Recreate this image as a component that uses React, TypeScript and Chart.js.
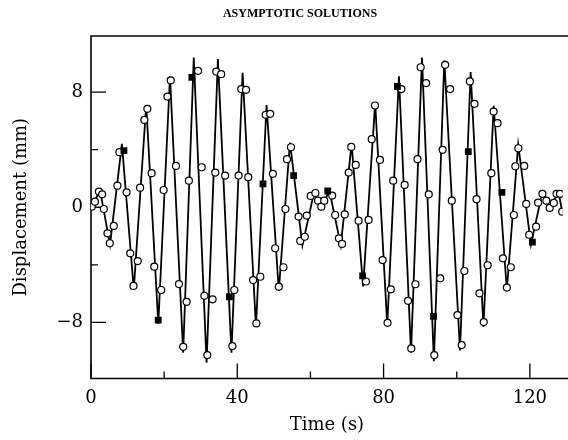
import { useEffect, useRef } from "react";
import { Chart, registerables } from "chart.js";

Chart.register(...registerables);

// Exact solution: vertices of the drawn curve (peaks and troughs)
const lineT = [0, 2.5, 5.2, 8.45, 11.7, 15.1, 18.4, 21.6, 25.2, 28.1, 31.6, 34.7, 38.4, 41.45, 45.1, 48.0, 51.35, 54.4, 57.8, 61.0, 63.0, 65.2, 68.3, 71.25, 74.4, 77.7, 81.0, 84.2, 87.5, 90.5, 93.75, 96.6, 100.9, 103.8, 107.3, 110.1, 113.7, 116.8, 120.3, 123.4, 125.4, 127.8, 129];
const lineY = [0, 1.15, -2.6, 4.4, -5.7, 7.1, -8.1, 9.1, -10.1, 10.4, -10.8, 10.3, -10.1, 9.35, -8.3, 7.1, -5.8, 4.5, -2.65, 1.05, 0.0, 1.15, -2.65, 4.4, -5.5, 7.25, -8.2, 9.1, -10.1, 10.4, -10.7, 10.2, -9.95, 9.4, -8.3, 7.05, -5.75, 4.35, -2.6, 1.05, -0.05, 1.05, -0.5];

// Asymptotic solution (open circles)
const asymT = [0.19, 1.08, 2.16, 3.05, 3.51, 4.51, 5.14, 6.22, 7.22, 7.76,
  9.73, 10.73, 11.62, 12.78, 13.43, 14.59, 15.41, 16.57, 17.3, 19.19,
  19.86, 20.89, 21.81, 23.24, 24.05, 25.22, 26.14, 26.76, 29.27, 30.27,
  31.0, 31.81, 33.24, 33.97, 34.24, 35.59, 36.68, 38.65, 39.19, 40.35,
  41.08, 42.4, 43.0, 44.32, 45.22, 46.3, 47.76, 49.0, 49.73, 50.35,
  51.35, 52.62, 53.16, 53.59, 54.68, 56.76, 57.22, 58.46, 59.0, 60.08,
  61.35, 62.08, 62.97, 63.78, 65.95, 66.76, 67.78, 68.65, 69.38, 70.46,
  71.16, 72.38, 73.16, 75.19, 75.89, 76.76, 77.65, 79.0, 79.73, 81.08,
  81.97, 82.62, 84.86, 85.76, 86.68, 87.57, 88.7, 89.27, 90.14, 91.62,
  92.35, 93.86, 95.49, 96.14, 96.84, 98.19, 98.65, 100.19, 101.35, 102.08,
  103.59, 104.86, 105.41, 106.22, 107.38, 108.46, 109.46, 110.08, 111.16, 112.62,
  113.7, 114.78, 115.62, 116.03, 116.84, 118.46, 119.0, 119.81, 121.7, 122.24,
  123.43, 124.51, 125.41, 126.54, 127.3, 128.24, 128.84];
const asymY = [0.04, 0.39, 1.09, 0.90, -0.12, -1.81, -2.50, -1.30, 1.50, 3.83,
  1.04, -3.20, -5.47, -3.74, 1.36, 6.07, 6.84, 2.37, -4.13, -5.75,
  1.20, 7.69, 8.81, 2.87, -5.34, -9.70, -6.57, 1.85, 9.48, 2.78,
  -6.15, -10.27, -6.40, 2.41, 9.43, 9.25, 2.20, -9.65, -5.75, 2.20,
  8.21, 8.16, 2.09, -5.06, -8.07, -4.83, 6.42, 6.49, 2.32, -2.85,
  -5.52, -4.17, -0.12, 3.34, 4.17, -0.65, -2.34, -2.05, -0.58, 0.79,
  0.99, 0.46, 0.04, 0.46, 0.81, -0.54, -2.16, -2.55, -0.50, 2.41,
  4.19, 2.94, -0.93, -5.16, -0.88, 4.73, 7.07, 3.29, -3.67, -8.03,
  -5.70, 1.85, 8.21, 1.55, -6.50, -9.81, -5.35, 3.34, 9.73, 8.63,
  0.90, -10.27, -4.94, 3.99, 9.90, 8.21, 0.46, -7.49, -9.58, -4.43,
  8.74, 7.19, 0.56, -5.98, -7.98, -4.03, 2.37, 6.65, 5.84, -3.55,
  -5.58, -4.17, -0.54, 2.85, 4.10, 2.87, 0.23, -1.91, -1.35, 0.32,
  0.93, 0.46, -0.05, 0.30, 0.93, 0.93, -0.31];

// Numerical solution (filled squares)
const numT = [9.0, 18.38, 27.57, 37.84, 47.03, 55.41, 64.73, 74.27, 83.78, 93.65, 103.16, 112.35, 120.68];
const numY = [3.94, -7.84, 9.02, -6.22, 1.62, 2.20, 1.13, -4.77, 8.39, -7.58, 3.87, 1.04, -2.43];

const xMajorTicks = [0, 40, 80, 120];
const xMinorTicks = [20, 60, 100];
const yMajorTicks = [-8, 0, 8];
const yMinorTicks = [-4, 4];

const chartTitle = "ASYMPTOTIC SOLUTIONS";
const xTitle = "Time (s)";
const yTitle = "Displacement (mm)";

const FONT = "DejaVu Serif";

const fmt = (v: number) => (v < 0 ? "\u2212" + Math.abs(v) : String(v));

const framePlugin = {
  id: "frame",
  beforeDatasetsDraw(chart: any) {
    const { ctx, chartArea: a, scales } = chart;
    const xs = scales.x;
    const ys = scales.y;
    ctx.save();
    ctx.strokeStyle = "#000";
    ctx.lineWidth = 1.6;
    ctx.beginPath();
    ctx.moveTo(chart.width, a.top);
    ctx.lineTo(a.left, a.top);
    ctx.lineTo(a.left, a.bottom);
    ctx.lineTo(chart.width, a.bottom);
    ctx.stroke();
    ctx.lineWidth = 1.3;
    ctx.beginPath();
    for (const v of xMajorTicks) {
      const p = xs.getPixelForValue(v);
      ctx.moveTo(p, a.bottom);
      ctx.lineTo(p, a.bottom - 15);
    }
    for (const v of xMinorTicks) {
      const p = xs.getPixelForValue(v);
      ctx.moveTo(p, a.bottom);
      ctx.lineTo(p, a.bottom - 7);
    }
    for (const v of yMajorTicks) {
      const p = ys.getPixelForValue(v);
      ctx.moveTo(a.left, p);
      ctx.lineTo(a.left + 15, p);
    }
    for (const v of yMinorTicks) {
      const p = ys.getPixelForValue(v);
      ctx.moveTo(a.left, p);
      ctx.lineTo(a.left + 7, p);
    }
    ctx.stroke();
    ctx.restore();
  },
  afterDraw(chart: any) {
    const { ctx } = chart;
    ctx.save();
    ctx.fillStyle = "#000";
    ctx.font = 'bold 12px "Liberation Serif"';
    ctx.textAlign = "center";
    ctx.textBaseline = "middle";
    ctx.fillText(chartTitle, 300, 14);
    ctx.restore();
  },
};

export default function App() {
  const ref = useRef<HTMLCanvasElement>(null);
  useEffect(() => {
    const canvas = ref.current;
    if (!canvas) return;
    const chart = new Chart(canvas, {
      type: "scatter",
      data: {
        datasets: [
          {
            label: "Numerical",
            data: numT.map((t, i) => ({ x: t, y: numY[i] })),
            pointStyle: "rect",
            pointRadius: 4.8,
            backgroundColor: "#000",
            borderColor: "#000",
            borderWidth: 0,
            showLine: false,
          },
          {
            label: "Asymptotic",
            data: asymT.map((t, i) => ({ x: t, y: asymY[i] })),
            pointStyle: "circle",
            pointRadius: 3.5,
            backgroundColor: "#fff",
            borderColor: "#000",
            borderWidth: 1.2,
            showLine: false,
          },
          {
            label: "Exact",
            data: lineT.map((t, i) => ({ x: t, y: lineY[i] })),
            showLine: true,
            pointRadius: 0,
            borderColor: "#000",
            borderWidth: 1.8,
            tension: 0,
            fill: false,
          },
        ],
      },
      options: {
        animation: false,
        responsive: true,
        maintainAspectRatio: false,
        events: [],
        layout: { padding: { top: 36, left: 0, right: 0, bottom: 0 } },
        plugins: {
          legend: { display: false },
          tooltip: { enabled: false },
          title: { display: false },
        },
        scales: {
          x: {
            type: "linear",
            min: 0,
            max: 129,
            afterBuildTicks: (s: any) => {
              s.ticks = xMajorTicks.map((v) => ({ value: v }));
            },
            afterFit: (s: any) => {
              s.height = 61.5;
            },
            grid: { display: false, drawTicks: false },
            border: { display: false },
            ticks: {
              color: "#000",
              font: { family: FONT, size: 18 },
              padding: 9,
              maxRotation: 0,
              autoSkip: false,
              callback: (v: any) => fmt(Number(v)),
            },
            title: {
              display: true,
              text: xTitle,
              color: "#000",
              font: { family: FONT, size: 18 },
              padding: { top: 0, bottom: 4 },
            },
          },
          y: {
            type: "linear",
            min: -11.9,
            max: 11.9,
            afterBuildTicks: (s: any) => {
              s.ticks = yMajorTicks.map((v) => ({ value: v }));
            },
            afterFit: (s: any) => {
              s.width = 91;
            },
            grid: { display: false, drawTicks: false },
            border: { display: false },
            ticks: {
              color: "#000",
              font: { family: FONT, size: 18 },
              padding: 8,
              autoSkip: false,
              callback: (v: any) => fmt(Number(v)),
            },
            title: {
              display: true,
              text: yTitle,
              color: "#000",
              font: { family: FONT, size: 18 },
              padding: { top: 11, bottom: 0 },
            },
          },
        },
      },
      plugins: [framePlugin],
    } as any);
    return () => chart.destroy();
  }, []);
  return (
    <div style={{ position: "fixed", left: 0, top: 0, width: 568, height: 440, background: "#fff" }}>
      <canvas ref={ref} />
    </div>
  );
}
